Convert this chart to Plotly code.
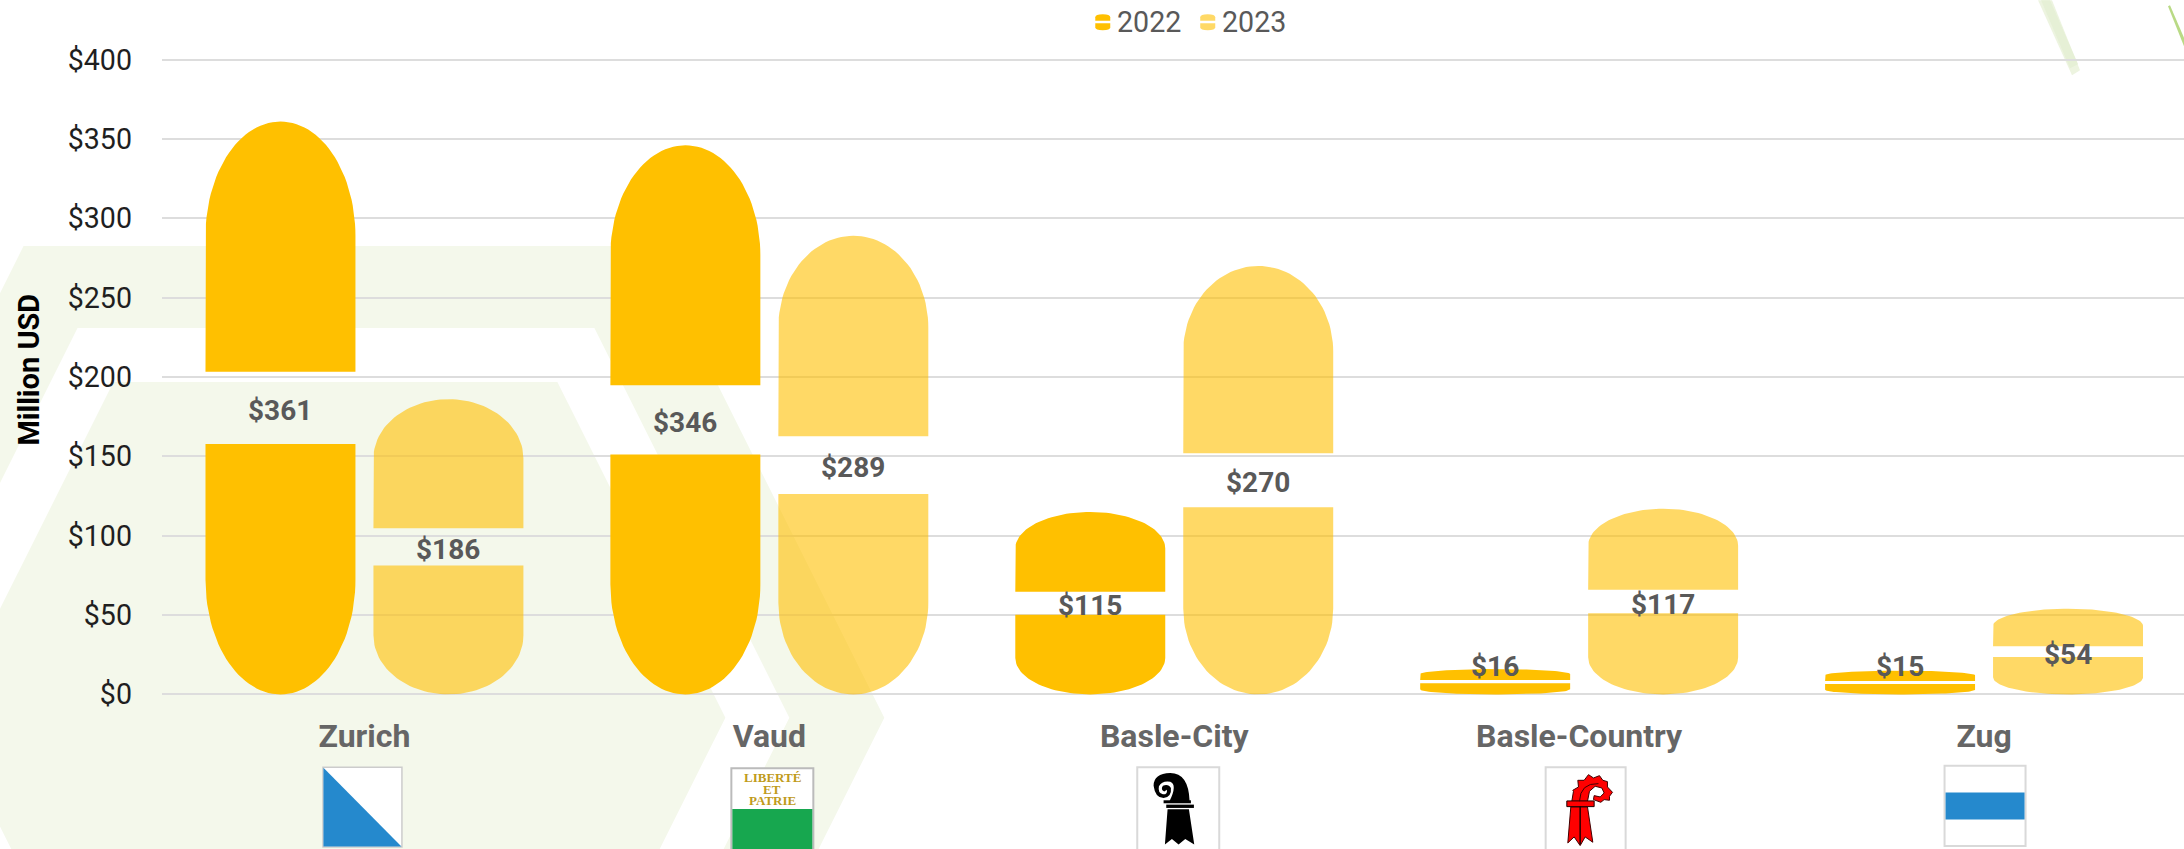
import numpy as np
import plotly.graph_objects as go

# ---- data ----
categories = ["Zurich", "Vaud", "Basle-City", "Basle-Country", "Zug"]
values_2022 = [361, 346, 115, 16, 15]
values_2023 = [186, 289, 270, 117, 54]
y_ticks = [0, 50, 100, 150, 200, 250, 300, 350, 400]
y_tick_labels = ["$0", "$50", "$100", "$150", "$200", "$250", "$300", "$350", "$400"]
series_names = ["2022", "2023"]

# ---- styling / layout constants ----
W, H = 2184, 849
L, R_EDGE, T, B = 161.5, 2184.0, 59.3, 694.7
GOLD = "#FFC000"
GOLD_60 = "rgba(255,192,0,0.6)"
BG = "#F4F8EB"
BLUE = "#2589CD"
BAND_PX = 405.0
HALF_W = 75 / BAND_PX
OFFSET = 84 / BAND_PX
END_FRAC = 0.20     # height share of each rounded end
GAP_FRAC = 0.126    # height share of the label gap
LABEL_FLOOR = 19    # lowest data height at which a value label sits
PAD_UNITS = 1.0     # small extra axis range so that the edge gridlines are drawn
PX_PER_UNIT = (B - T) / 400


def px(x, y):
    return (x - L) / (R_EDGE - L), 1 - (y - (T - PAD_UNITS * PX_PER_UNIT)) / ((B - T) + 2 * PAD_UNITS * PX_PER_UNIT)


def path(cmds):
    """cmds: list of (letter, x1, y1, ...) in page pixels -> SVG path in paper units."""
    out = []
    for c in cmds:
        if c[0] == "Z":
            out.append("Z")
            continue
        nums = []
        for i in range(1, len(c), 2):
            a, b = px(c[i], c[i + 1])
            nums.append(f"{a:.5f},{b:.5f}")
        out.append(c[0] + " ".join(nums))
    return " ".join(out)


def poly(points):
    return path([("M",) + points[0]] + [("L",) + p for p in points[1:]] + [("Z",)])


def scaled(points, ox, oy):
    return [(ox + a / 3, oy + b / 3) for a, b in points]


def shape(d, fill, line=None, lw=0, layer="above"):
    return dict(type="path", xref="paper", yref="paper", path=d, fillcolor=fill,
                line=dict(color=line or "rgba(0,0,0,0)", width=lw), layer=layer)


def rect(x0, y0, x1, y1, fill="rgba(0,0,0,0)", line=None, lw=0):
    a0, b0 = px(x0, y0)
    a1, b1 = px(x1, y1)
    return dict(type="rect", xref="paper", yref="paper", x0=a0, y0=b0, x1=a1, y1=b1,
                fillcolor=fill, line=dict(color=line or "rgba(0,0,0,0)", width=lw), layer="above")


def pill(center, value):
    """Outline of the capsule for one value, cut by the label gap (data units)."""
    r = END_FRAC * value
    g0, g1 = value * (0.5 - GAP_FRAC / 2), value * (0.5 + GAP_FRAC / 2)
    t = np.linspace(0, np.pi / 2, 30)
    # lower part
    xs = list(center - HALF_W * np.cos(t)) + list(center + HALF_W * np.sin(t))
    ys = list(r - r * np.sin(t)) + list(r - r * np.cos(t))
    xs += [center + HALF_W, center - HALF_W, center - HALF_W, None]
    ys += [g0, g0, r, None]
    # upper part
    xs += [center - HALF_W, center - HALF_W] + list(center - HALF_W * np.cos(t)) + list(center + HALF_W * np.sin(t))
    ys += [g1, value - r] + list(value - r + r * np.sin(t)) + list(value - r + r * np.cos(t))
    xs += [center + HALF_W, center - HALF_W]
    ys += [g1, g1]
    return xs, ys


fig = go.Figure()
for vals, off, col, name in [(values_2022, -OFFSET, GOLD, series_names[0]),
                             (values_2023, OFFSET, GOLD_60, series_names[1])]:
    X, Y = [], []
    for i, v in enumerate(vals):
        xs, ys = pill(i + off, v)
        X += xs + [None]
        Y += ys + [None]
    fig.add_trace(go.Scatter(x=X, y=Y, mode="lines", fill="toself", fillcolor=col,
                             line=dict(width=0, color=col), name=name,
                             showlegend=False, hoverinfo="skip"))

annotations = []
for vals, off in [(values_2022, -OFFSET), (values_2023, OFFSET)]:
    for i, v in enumerate(vals):
        annotations.append(dict(x=i + off, y=max(v / 2, LABEL_FLOOR), xref="x", yref="y", text=f"${v}",
                                showarrow=False, yshift=-2.5, xanchor="center", yanchor="middle",
                                font=dict(family="Roboto", size=28, color="#595959", weight=700)))

shapes = []


def hexagon(top, x_tip_right, x_tip_left, cy=718.0, slope=0.5):
    dx = (cy - top) * slope
    bottom = 2 * cy - top
    return [("M", x_tip_left, cy), ("L", x_tip_left + dx, top), ("L", x_tip_right - dx, top),
            ("L", x_tip_right, cy), ("L", x_tip_right - dx, bottom), ("L", x_tip_left + dx, bottom), ("Z",)]


# background hexagon ring + core
ring = path(hexagon(246, 884, -213) + hexagon(328, 789, -118))
shapes.append(shape(ring, BG, layer="below"))
shapes.append(shape(path(hexagon(382, 725, -55)), BG, layer="below"))
# faint strokes at the upper right
shapes.append(shape(poly([(2038, 0), (2052, 0), (2080, 70), (2072, 75)]), "#EDF4E0", layer="below"))
shapes.append(shape(poly([(2041, 0), (2050, 0), (2078, 64), (2070, 68)]), "#E6F0D6", layer="below"))
shapes.append(shape(poly([(2168, 6), (2170, 5), (2186, 42), (2184, 46)]), "#B9DA85", layer="below"))

# legend icons
for x0, fill in [(1095, GOLD), (1200, GOLD_60)]:
    w, y0, y1 = 15, 14, 30
    for a, b, up in [(y0, 20.5, True), (23, y1, False)]:
        if up:
            d = path([("M", x0, b), ("L", x0, a + 3), ("Q", x0, a, x0 + w / 2, a),
                      ("Q", x0 + w, a, x0 + w, a + 3), ("L", x0 + w, b), ("Z",)])
        else:
            d = path([("M", x0, a), ("L", x0, b - 3), ("Q", x0, b, x0 + w / 2, b),
                      ("Q", x0 + w, b, x0 + w, b - 3), ("L", x0 + w, a), ("Z",)])
        shapes.append(shape(d, fill))

FRAME = "#D9D9D9"
# Zurich flag
shapes.append(rect(322.5, 767.5, 401.5, 847.5, "#FFFFFF", "#CCCCCC", 1.5))
shapes.append(shape(poly([(323, 768), (401, 847), (323, 847)]), BLUE))
# Vaud flag
shapes.append(rect(731, 768.5, 813, 860, "#FFFFFF", "#BBBBBB", 2))
shapes.append(rect(732, 809.5, 812, 860, "#17A74F"))
# Basle-City flag
shapes.append(rect(1137, 767.5, 1219, 860, "#FFFFFF", FRAME, 2))
ox, oy = 1120, 760
Z = lambda *p: (p[0], ox + p[1] / 3, oy + p[2] / 3, ) if len(p) == 3 else (p[0], ox + p[1] / 3, oy + p[2] / 3, ox + p[3] / 3, oy + p[4] / 3)
head = [Z("M", 208, 124), Z("Q", 205, 40, 150, 40), Z("Q", 100, 42, 100, 78), Z("Q", 105, 115, 130, 115),
        Z("Q", 155, 112, 152, 85), Z("Q", 145, 72, 128, 78), Z("Q", 120, 90, 132, 96),
        Z("L", 140, 90), Z("Q", 142, 105, 128, 104), Z("Q", 112, 100, 116, 80), Z("Q", 125, 62, 150, 66),
        Z("Q", 172, 75, 148, 124), ("Z",)]
shapes.append(shape(path(head), "#000000"))
shapes.append(rect(ox + 130 / 3, oy + 122 / 3, ox + 212 / 3, oy + 131 / 3, "#000000"))
shapes.append(rect(ox + 138 / 3, oy + 135 / 3, ox + 221 / 3, oy + 145 / 3, "#000000"))
shapes.append(shape(poly(scaled([(142, 149), (206, 149), (222, 255), (195, 238), (175, 255), (155, 238), (134, 255)], ox, oy)), "#000000"))
# Basle-Country flag
shapes.append(rect(1545.5, 767.5, 1625.5, 860, "#FFFFFF", FRAME, 2))
ox, oy = 1530, 760
red_head = [(125, 125), (130, 95), (128, 92), (145, 82), (143, 62), (162, 62), (175, 45), (190, 55), (208, 48),
            (218, 62), (232, 66), (232, 82), (247, 98), (238, 110), (238, 122), (222, 120), (212, 128),
            (190, 120), (192, 108), (210, 112), (222, 100), (215, 85), (195, 80), (178, 95), (172, 125)]
shapes.append(shape(poly(scaled(red_head, ox, oy)), "#FF0000", "#400000", 1))
shapes.append(shape(poly(scaled([(122, 142), (113, 250), (132, 232), (150, 258), (165, 232), (188, 248), (172, 142)], ox, oy)), "#FF0000", "#400000", 1))
shapes.append(rect(ox + 110 / 3, oy + 124 / 3, ox + 192 / 3, oy + 141 / 3, "#FF0000", "#200000", 1))
a0 = [("M",) + p for p in scaled([(150, 140)], ox, oy)] + [("L",) + p for p in scaled([(150, 255)], ox, oy)]
shapes.append(dict(type="path", xref="paper", yref="paper", path=path(a0), line=dict(color="#200000", width=1.5), layer="above"))
a1 = [("M",) + p for p in scaled([(148, 125)], ox, oy)] + [("Q",) + scaled([(150, 70)], ox, oy)[0] + scaled([(205, 72)], ox, oy)[0]]
shapes.append(dict(type="path", xref="paper", yref="paper", path=path(a1), line=dict(color="#400000", width=1), layer="above"))
# Zug flag
shapes.append(rect(1944.5, 766, 2025.5, 846.5, "#FFFFFF", FRAME, 2))
shapes.append(rect(1945.5, 793, 2024.5, 820, BLUE))


def text(x, y, s, size, color, weight=400, family="Roboto", angle=0, xanchor="center"):
    a, b = px(x, y)
    annotations.append(dict(x=a, y=b, xref="paper", yref="paper", text=s, showarrow=False,
                            xanchor=xanchor, yanchor="middle", textangle=angle,
                            font=dict(family=family, size=size, color=color, weight=weight)))


text(1114.7, 21.7, series_names[0], 28.6, "#595959", xanchor="left")
text(1220.2, 21.7, series_names[1], 28.6, "#595959", xanchor="left")
text(28, 370, "Million USD", 29, "#000000", weight=700, angle=-90)
for yy, word in [(778, "LIBERTÉ"), (789.5, "ET"), (800.7, "PATRIE")]:
    text(771.7, yy, word, 13, "#BF9B1B", weight=700, family="Liberation Serif")

pad_px = PAD_UNITS * PX_PER_UNIT
fig.update_layout(
    width=W, height=H, autosize=False,
    margin=dict(l=L, r=W - R_EDGE, t=T - pad_px, b=H - B - pad_px, pad=0),
    paper_bgcolor="#FFFFFF", plot_bgcolor="rgba(0,0,0,0)",
    showlegend=False, shapes=shapes, annotations=annotations,
    xaxis=dict(range=[-0.5, -0.5 + (R_EDGE - L) / BAND_PX], tickmode="array",
               tickvals=list(range(len(categories))), ticktext=categories,
               showgrid=False, zeroline=False, showline=False, ticks="",
               tickfont=dict(family="Roboto", size=32, color="#666666", weight=700),
               ticklabelstandoff=18, fixedrange=True),
    yaxis=dict(range=[-PAD_UNITS, 400 + PAD_UNITS], tickmode="array", tickvals=y_ticks, ticktext=y_tick_labels,
               showgrid=True, gridcolor="#DDDDDD", gridwidth=2, zeroline=False, showline=False,
               ticks="", tickfont=dict(family="Roboto", size=28.6, color="#1F1F1F"),
               ticklabelstandoff=29, fixedrange=True),
)

fig.write_html("out.html", config=dict(displayModeBar=False),
               post_script="document.body.style.margin='0';document.body.style.overflow='hidden';")
